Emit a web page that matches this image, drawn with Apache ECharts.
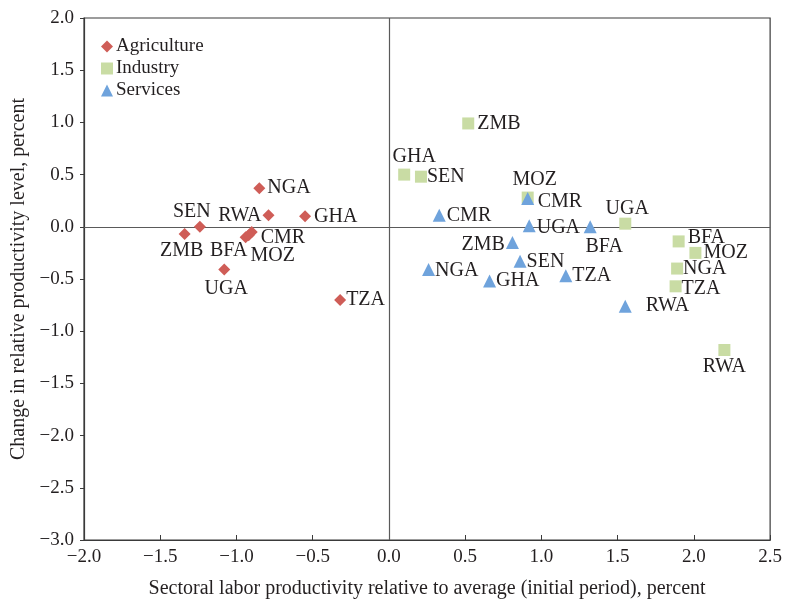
<!DOCTYPE html>
<html>
<head>
<meta charset="utf-8">
<title>Sectoral productivity</title>
<script src="https://cdn.jsdelivr.net/npm/echarts@6/dist/echarts.min.js"></script>
<style>
  html, body { margin: 0; padding: 0; background: #fff; }
  #chart { width: 785px; height: 604px; }
</style>
</head>
<body>
<div id="chart"></div>
<script>
// Sector names shown in the legend
const sectors = ['Agriculture', 'Industry', 'Services'];

// Agriculture: country codes, initial relative productivity (x), change (y)
const agriNames = ['NGA', 'RWA', 'GHA', 'SEN', 'ZMB', 'BFA', 'CMR', 'MOZ', 'UGA', 'TZA'];
const agriX = [-0.85, -0.79, -0.55, -1.24, -1.34, -0.94, -0.90, -0.92, -1.08, -0.32];
const agriY = [0.37, 0.11, 0.10, 0.00, -0.07, -0.10, -0.05, -0.08, -0.41, -0.70];

// Industry
const indNames = ['ZMB', 'GHA', 'SEN', 'CMR', 'UGA', 'BFA', 'MOZ', 'NGA', 'TZA', 'RWA'];
const indX = [0.52, 0.10, 0.21, 0.91, 1.55, 1.90, 2.01, 1.89, 1.88, 2.20];
const indY = [0.99, 0.50, 0.48, 0.28, 0.03, -0.14, -0.25, -0.40, -0.57, -1.18];

// Services
const servNames = ['CMR', 'MOZ', 'UGA', 'BFA', 'ZMB', 'SEN', 'NGA', 'GHA', 'TZA', 'RWA'];
const servX = [0.33, 0.91, 0.92, 1.32, 0.81, 0.86, 0.26, 0.66, 1.16, 1.55];
const servY = [0.11, 0.27, 0.01, 0.00, -0.15, -0.33, -0.41, -0.52, -0.47, -0.76];

// Axis ticks
const xTicks = { min: -2.0, max: 2.5, step: 0.5 };
const yTicks = { min: -3.0, max: 2.0, step: 0.5 };

// Where each country's code sits relative to its marker
const agriLabelPlace = {
  NGA: { position: 'right', distance: 2 },
  RWA: { position: 'left', distance: 1 },
  GHA: { position: 'right', distance: 3 },
  SEN: { position: 'top', distance: 1, offset: [-8, 2] },
  ZMB: { position: 'bottom', distance: 1, offset: [-3, 0] },
  BFA: { position: 'bottom', distance: 0, offset: [-17, -2] },
  CMR: { position: 'right', distance: 2, offset: [1, 6] },
  MOZ: { position: 'bottom', distance: 1, offset: [24, 4] },
  UGA: { position: 'bottom', distance: 2, offset: [2, 1] },
  TZA: { position: 'right', distance: 0 }
};
const indLabelPlace = {
  ZMB: { position: 'right', distance: 3 },
  GHA: { position: 'top', distance: 2, offset: [10, 0] },
  SEN: { position: 'right', distance: 0 },
  CMR: { position: 'right', distance: 4, offset: [0, 4] },
  UGA: { position: 'top', distance: 2, offset: [2, 3] },
  BFA: { position: 'right', distance: 3, offset: [0, -4] },
  MOZ: { position: 'right', distance: 2 },
  NGA: { position: 'right', distance: 0 },
  TZA: { position: 'right', distance: 0, offset: [0, 2] },
  RWA: { position: 'bottom', distance: 1 }
};
const servLabelPlace = {
  CMR: { position: 'right', distance: 1 },
  MOZ: { position: 'top', distance: 4, offset: [7, 2] },
  UGA: { position: 'right', distance: 1, offset: [0, 2] },
  BFA: { position: 'bottom', distance: 1, offset: [14, 2] },
  ZMB: { position: 'left', distance: 1, offset: [0, 2] },
  SEN: { position: 'right', distance: 0 },
  NGA: { position: 'right', distance: 0, offset: [0, 1] },
  GHA: { position: 'right', distance: 0 },
  TZA: { position: 'right', distance: 0 },
  RWA: { position: 'right', distance: 14 }
};

const SERIF = '"Liberation Serif", "DejaVu Serif", serif';
const TEXT = '#231f20';
const FRAME = '#3a3a3a';

function minus(v) {
  return v.toFixed(1).replace('-', '\u2212');
}

function points(names, xs, ys, place) {
  return names.map(function (n, i) {
    const p = place[n] || { position: 'right' };
    return {
      name: n,
      value: [xs[i], ys[i]],
      label: {
        position: p.position,
        distance: p.distance != null ? p.distance : 3,
        offset: p.offset || [0, 0]
      }
    };
  });
}

function series(name, symbol, size, color, data, extra) {
  return Object.assign({
    name: name,
    type: 'scatter',
    symbol: symbol,
    symbolSize: size,
    itemStyle: { color: color, opacity: 1 },
    label: {
      show: true,
      formatter: '{b}',
      color: TEXT,
      fontFamily: SERIF,
      fontSize: 20
    },
    emphasis: { disabled: true },
    data: data,
    z: 3
  }, extra || {});
}

const chart = echarts.init(document.getElementById('chart'), null, { renderer: 'canvas' });

chart.setOption({
  animation: false,
  backgroundColor: '#ffffff',
  textStyle: { fontFamily: SERIF, color: TEXT },
  grid: {
    left: 84, right: 14, top: 18, bottom: 62,
    show: true, borderColor: FRAME, borderWidth: 1.2,
    containLabel: false
  },
  legend: {
    orient: 'vertical',
    left: 96, top: 32,
    itemGap: 3,
    itemWidth: 12, itemHeight: 12,
    textStyle: { fontFamily: SERIF, fontSize: 19, color: TEXT, padding: [0, 0, 0, -2] },
    data: sectors
  },
  xAxis: {
    type: 'value',
    min: xTicks.min, max: xTicks.max, interval: xTicks.step,
    name: 'Sectoral labor productivity relative to average (initial period), percent',
    nameLocation: 'middle',
    nameGap: 39,
    nameTextStyle: { fontFamily: SERIF, fontSize: 20, color: TEXT },
    axisLine: { onZero: false, lineStyle: { color: FRAME, width: 1.2 } },
    axisTick: { show: true, inside: true, length: 5, lineStyle: { color: FRAME } },
    axisLabel: { formatter: minus, fontFamily: SERIF, fontSize: 19, color: TEXT, margin: 8 },
    splitLine: { show: false }
  },
  yAxis: {
    type: 'value',
    min: yTicks.min, max: yTicks.max, interval: yTicks.step,
    name: 'Change in relative productivity level, percent',
    nameLocation: 'middle',
    nameGap: 52,
    nameTextStyle: { fontFamily: SERIF, fontSize: 20, color: TEXT },
    axisLine: { onZero: false, lineStyle: { color: FRAME, width: 1.2 } },
    axisTick: { show: true, inside: false, length: 4, lineStyle: { color: FRAME } },
    axisLabel: { formatter: minus, fontFamily: SERIF, fontSize: 19, color: TEXT, margin: 10 },
    splitLine: { show: false }
  },
  series: [
    series('Agriculture', 'diamond', 12, '#cf5d57', points(agriNames, agriX, agriY, agriLabelPlace), {
      markLine: {
        silent: true,
        symbol: 'none',
        label: { show: false },
        lineStyle: { color: '#5a5a5a', width: 1.2, type: 'solid' },
        data: [{ xAxis: 0 }, { yAxis: 0 }],
        z: 1
      }
    }),
    series('Industry', 'rect', 12, '#c9dca4', points(indNames, indX, indY, indLabelPlace)),
    series('Services', 'triangle', 13, '#6fa3dc', points(servNames, servX, servY, servLabelPlace))
  ]
});
</script>
</body>
</html>
